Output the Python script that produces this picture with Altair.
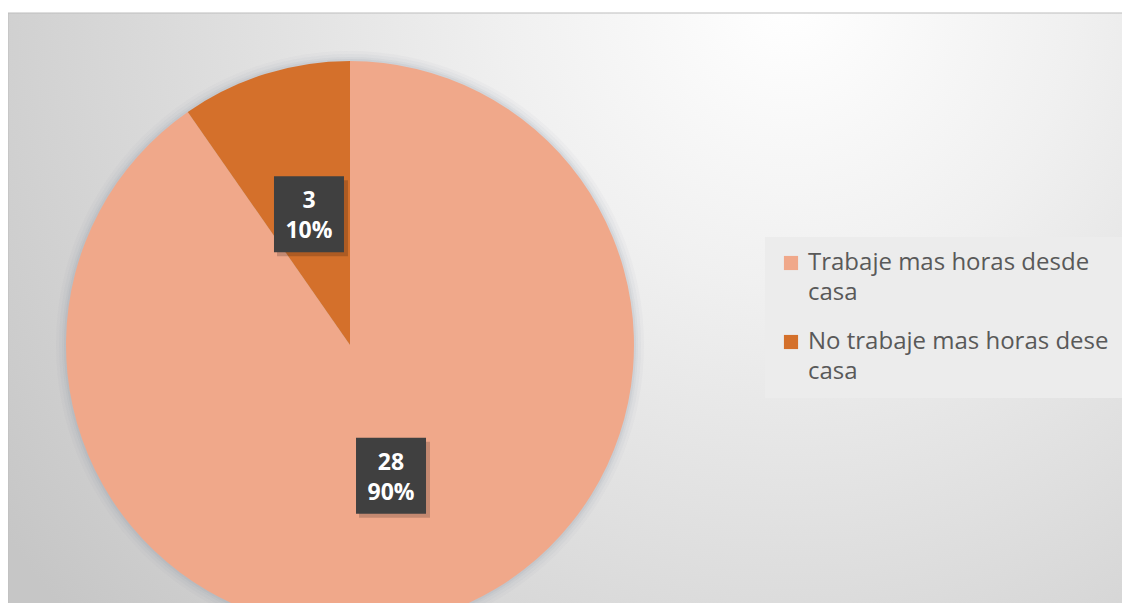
import altair as alt
import pandas as pd

categories = ["Trabaje mas horas desde casa", "No trabaje mas horas dese casa"]
counts = [28, 3]
percents = ["90%", "10%"]
order_idx = [1, 2]
colors = ["#F0A88A", "#D4702B"]

df = pd.DataFrame({"cat": categories, "n": counts, "pct": percents, "o": order_idx})

W, H = 1114, 595
CX, CY, R, LR = 342, 337, 284, 137

bg = alt.Chart(pd.DataFrame({"a": [0]})).mark_rect(
    color=alt.Gradient(
        gradient="radial",
        stops=[alt.GradientStop(color="#ffffff", offset=0),
               alt.GradientStop(color="#f0f0f0", offset=0.3),
               alt.GradientStop(color="#c6c6c6", offset=1)],
        x1=0.7, y1=0.22, r1=0.0, x2=0.7, y2=0.22, r2=0.85,
    ),
    stroke="#bdbdbd", strokeWidth=1,
).encode(x=alt.value(0), x2=alt.value(W + 2), y=alt.value(5), y2=alt.value(H + 10))

halo_layers = []
for k, op in [(10, 0.04), (7, 0.05), (4, 0.07), (2, 0.09)]:
    halo_layers.append(
        alt.Chart(pd.DataFrame({"a": [0]})).mark_arc(
            radius=R + k, theta=0, theta2=6.2832, color="#7f8a99", opacity=op
        ).encode(x=alt.value(CX), y=alt.value(CY))
    )

base = alt.Chart(df)

pie = base.mark_arc(radius=R, stroke=None).encode(
    x=alt.value(CX),
    y=alt.value(CY),
    theta=alt.Theta("n:Q", stack=True),
    order=alt.Order("o:Q"),
    color=alt.Color(
        "cat:N",
        scale=alt.Scale(domain=categories, range=colors),
        sort=categories,
        legend=alt.Legend(
            title=None,
            orient="none",
            legendX=757,
            legendY=229,
            fillColor="#ececec",
            padding=14,
            symbolType="square",
            symbolSize=200,
            symbolStrokeWidth=0,
            labelFont="Open Sans",
            labelFontSize=24,
            labelColor="#595959",
            labelLimit=400,
            labelOffset=5,
            rowPadding=25,
            labelExpr="[slice(datum.label, 0, lastindexof(datum.label, ' ')), slice(datum.label, lastindexof(datum.label, ' ') + 1)]",
        ),
    ),
).properties(width=W, height=H)

pos = base.transform_joinaggregate(total="sum(n)").transform_window(
    cum="sum(n)", sort=[alt.SortField("o")], frame=[None, 0]
).transform_calculate(
    mid="(datum.cum - datum.n / 2) / datum.total * 2 * PI",
).transform_calculate(
    px=f"{CX} + {LR} * sin(datum.mid)",
    py=f"{CY} - {LR} * cos(datum.mid)",
    lbl="datum.n + '\\n' + datum.pct",
).transform_calculate(
    x1="datum.px - 35", x2="datum.px + 35", y1="datum.py - 38", y2="datum.py + 38",
    sx1="datum.px - 32", sx2="datum.px + 39", sy1="datum.py - 34", sy2="datum.py + 42",
)

shadow = pos.mark_rect(color="#000000", opacity=0.18).encode(
    x=alt.X("sx1:Q", scale=None), x2="sx2:Q",
    y=alt.Y("sy1:Q", scale=None), y2="sy2:Q",
)
box = pos.mark_rect(color="#404040").encode(
    x=alt.X("x1:Q", scale=None), x2="x2:Q",
    y=alt.Y("y1:Q", scale=None), y2="y2:Q",
)
txt = pos.mark_text(
    color="white", font="Open Sans", fontWeight="bold", fontSize=23,
    lineBreak="\n", lineHeight=30, baseline="middle", dy=-13,
).encode(
    x=alt.X("px:Q", scale=None), y=alt.Y("py:Q", scale=None), text="lbl:N",
)

chart = alt.layer(bg, *halo_layers, pie, shadow, box, txt).properties(
    width=W, height=H, padding=0,
    autosize=alt.AutoSizeParams(type="none"),
).configure(
    style={"guide-label": {"lineHeight": 30}}
).configure_view(stroke=None, clip=True)

chart.save("out.html", embed_options={"renderer": "svg", "actions": False})
